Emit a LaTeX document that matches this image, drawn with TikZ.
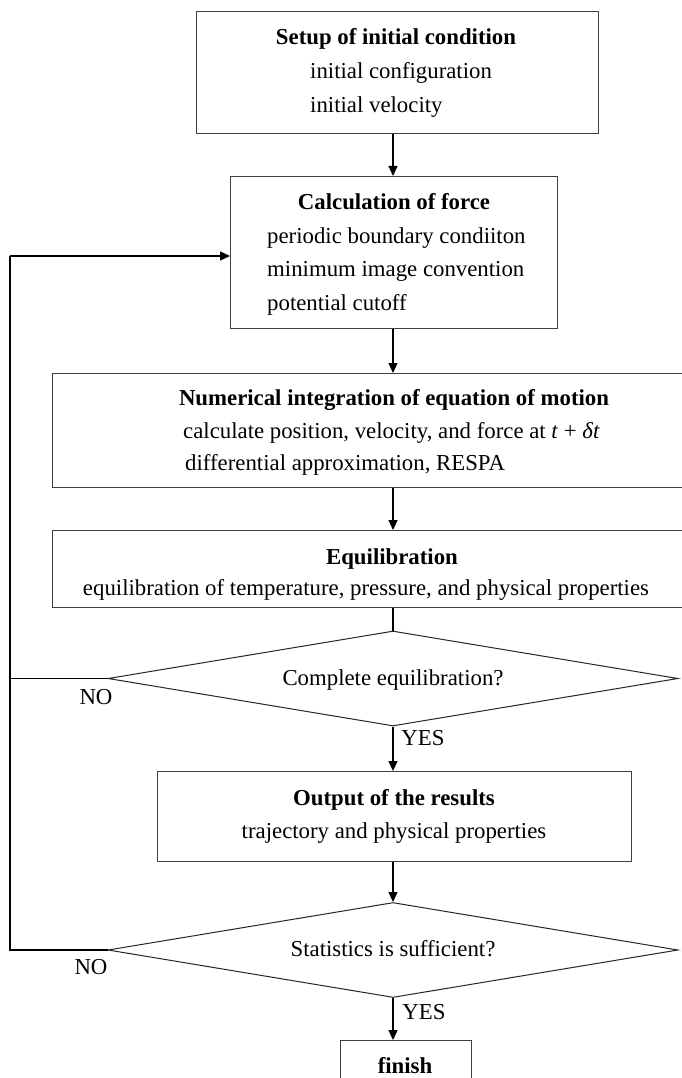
\documentclass[tikz,border=0pt]{standalone}
\usepackage{fontspec}
\setmainfont{Liberation Serif}
\usetikzlibrary{shapes.geometric,arrows.meta}

\begin{document}
\begin{tikzpicture}[x=1pt,y=-1pt,
  box/.style={draw=black!75,line width=1pt,rectangle,inner sep=0pt,anchor=north west},
  decision/.style={draw=black!85,line width=1pt,diamond,aspect=6,inner sep=0pt,
    minimum width=570,minimum height=95},
  ttl/.style={inner sep=0pt,anchor=mid,font=\fontsize{22.8}{28}\selectfont\bfseries},
  txt/.style={inner sep=0pt,anchor=mid west,font=\fontsize{22.8}{28}\selectfont},
  ctxt/.style={inner sep=0pt,anchor=mid,font=\fontsize{22.8}{28}\selectfont},
  flow/.style={line width=1.3pt,-{Triangle[length=10pt,width=9pt]}},
  plain/.style={line width=1.3pt},
  back/.style={line width=1.9pt},
]
\useasboundingbox (0,0) rectangle (682,1078);
\clip (0,0) rectangle (682,1078);
\fill[white] (0,0) rectangle (682,1078);

% process boxes
\node[box,minimum width=402,minimum height=122] (setup) at (196,11) {};
\node[box,minimum width=327,minimum height=152] (calc) at (230,176) {};
\node[box,minimum width=682,minimum height=114] (num) at (52,373) {};
\node[box,minimum width=682,minimum height=77] (equil) at (52,530) {};
\node[box,minimum width=474,minimum height=90] (out) at (157,771) {};
\node[box,minimum width=131,minimum height=80] (fin) at (340,1040) {};

% decisions, with their questions
\node[decision] (d1) at (393,678.5) {};
\node[decision] (d2) at (393,950) {};
\node[ctxt] (d1T) at (393,683) {Complete equilibration?};
\node[ctxt] (d2T) at (393,954) {Statistics is sufficient?};

% box texts
\node[ttl] (setupT) at (396,42) {Setup of initial condition};
\node[txt] (setupA) at (310,76) {initial configuration};
\node[txt] (setupB) at (310,110) {initial velocity};

\node[ttl] (calcT) at (394,207) {Calculation of force};
\node[txt] (calcA) at (267,241) {periodic boundary condiiton};
\node[txt] (calcB) at (267,274) {minimum image convention};
\node[txt] (calcC) at (267,308) {potential cutoff};

\node[ttl] (numT) at (394,403) {Numerical integration of equation of motion};
\node[txt] (numA) at (183,436) {calculate position, velocity, and force at \textit{t} + \textit{δt}};
\node[txt] (numB) at (185,468) {differential approximation, RESPA};

\node[ttl] (equilT) at (392,562) {Equilibration};
\node[ctxt] (equilA) at (366,593) {equilibration of temperature, pressure, and physical properties};

\node[ttl] (outT) at (394,803) {Output of the results};
\node[ctxt] (outA) at (394,836) {trajectory and physical properties};

\node[ttl] (finT) at (405,1071) {finish};

% branch labels
\node[ctxt] (no1) at (96,702) {NO};
\node[ctxt] (yes1) at (423,743) {YES};
\node[ctxt] (no2) at (91,972) {NO};
\node[ctxt] (yes2) at (424,1017) {YES};

% main flow
\coordinate (axis) at (393,0);
\draw[flow] (axis |- setup.south) -- (axis |- calc.north);
\draw[flow] (axis |- calc.south) -- (axis |- num.north);
\draw[flow] (axis |- num.south) -- (axis |- equil.north);
\draw[plain] (axis |- equil.south) -- (d1.north);
\draw[flow] (d1.south) -- (axis |- out.north);
\draw[flow] (axis |- out.south) -- (d2.north);
\draw[flow] (d2.south) -- (axis |- fin.north);

% feedback loop
\coordinate (lb) at (10,950);
\coordinate (lt) at (10,256);
\draw[back] (d1.west) -- (d1.west -| lb);
\draw[back] (d2.west) -- (d2.west -| lb) -- (lt);
\draw[flow] (lt) -- (lt -| calc.west);
\end{tikzpicture}
\end{document}
